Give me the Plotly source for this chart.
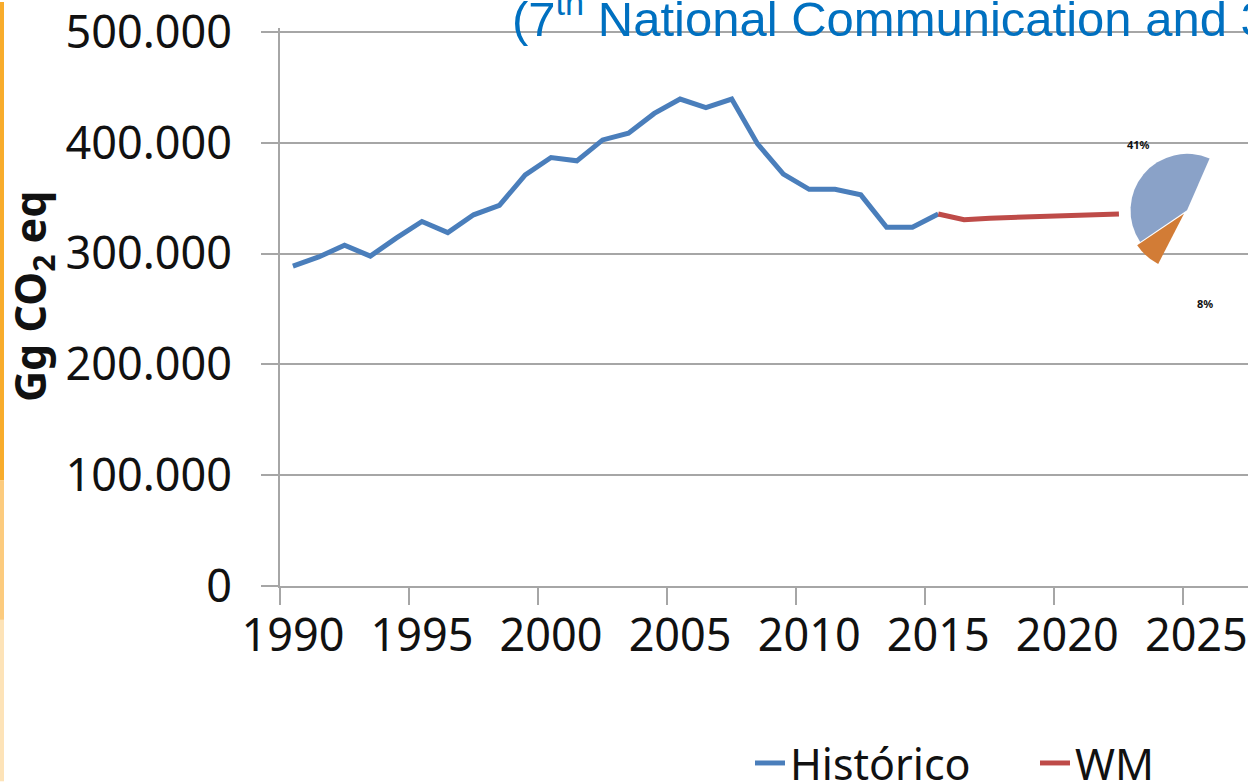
import plotly.graph_objects as go

# ---- data ----
hist_years = list(range(1990, 2016))
hist_values = [288.7, 297.0, 307.5, 297.7, 314.0, 329.0, 319.0, 335.0, 343.5, 371.0,
               386.7, 383.7, 402.6, 408.6, 426.5, 439.5, 431.7, 439.5, 399.0, 371.7,
               358.0, 358.0, 353.0, 323.7, 323.7, 335.7]
hist_values = [v * 1000 for v in hist_values]

wm_years = list(range(2015, 2023))
wm_values = [335.7, 330.6, 332.0, 332.7, 334.2, 334.5, 334.8, 335.7]
wm_values = [v * 1000 for v in wm_values]

x_label_years = [1990, 1995, 2000, 2005, 2010, 2015, 2020, 2025]
x_tick_bounds = [1989.5, 1994.5, 1999.5, 2004.5, 2009.5, 2014.5, 2019.5, 2024.5]
y_tick_vals = [0, 100000, 200000, 300000, 400000, 500000]
y_tick_text = ["0", "100.000", "200.000", "300.000", "400.000", "500.000"]

pie_labels = ["41%", "8%", ""]
pie_values = [41, 8, 51]

W, H = 1248, 782
ML, MR, MT, MB = 280, 0, 26, 196
PW, PH = W - ML - MR, H - MT - MB
Y_TOP = 500000 * PH / (PH - 4)


def px(xp):
    return (xp - ML) / PW


def py(yp):
    return (H - MB - yp) / PH


GRID = "#A6A6A6"
FONT = "Noto Sans"

fig = go.Figure()
fig.add_trace(go.Scatter(x=hist_years, y=hist_values, mode="lines", name="Histórico",
                         line=dict(color="#4A7EBB", width=5)))
fig.add_trace(go.Scatter(x=wm_years, y=wm_values, mode="lines", name="WM",
                         line=dict(color="#BE4B48", width=5)))

fig.add_trace(go.Pie(values=pie_values, labels=["A", "B", "C"], sort=False,
                     direction="counterclockwise", rotation=236,
                     marker=dict(colors=["#8AA2C8", "#D27C36", "rgba(0,0,0,0)"],
                                 line=dict(width=0)),
                     pull=[0, 0.08, 0], textinfo="none", showlegend=False,
                     hoverinfo="skip",
                     domain=dict(x=[px(1126), 1.0], y=[py(318), py(100)])))

fig.update_layout(
    width=W, height=H,
    margin=dict(l=ML, r=MR, t=MT, b=MB),
    paper_bgcolor="#FFFFFF", plot_bgcolor="#FFFFFF",
    font=dict(family=FONT, color="#111111", size=43),
    xaxis=dict(range=[1989.5, 2027.0], tickmode="array", tickvals=x_label_years,
               ticktext=[str(y) for y in x_label_years], ticks="", showgrid=False,
               showline=True, linecolor=GRID, linewidth=2, zeroline=False,
               ticklabelstandoff=9,
               minor=dict(tickmode="array", tickvals=x_tick_bounds, ticks="outside",
                          ticklen=17, tickwidth=2, tickcolor=GRID, showgrid=False),
               tickfont=dict(family=FONT, size=45, color="#111111")),
    yaxis=dict(range=[0, Y_TOP], tickmode="array", tickvals=y_tick_vals,
               ticktext=y_tick_text, ticks="outside", ticklen=17, tickwidth=2,
               tickcolor=GRID, showgrid=True, gridcolor=GRID, gridwidth=2,
               showline=True, linecolor=GRID, linewidth=2, zeroline=False,
               ticklabelstandoff=20, ticklabeloverflow="allow",
               tickfont=dict(family=FONT, size=45, color="#111111")),
    legend=dict(orientation="h", xref="container", yref="container",
                x=750 / W, xanchor="left", y=1 - 763 / H, yanchor="middle",
                font=dict(family=FONT, size=43, color="#111111"),
                bgcolor="rgba(0,0,0,0)", entrywidth=240, itemwidth=30),
    showlegend=True,
)

# white background of the overlaid pie picture
fig.add_shape(type="rect", xref="paper", yref="paper", x0=px(1110), x1=1.0,
              y0=py(335), y1=py(95), fillcolor="#FFFFFF", line=dict(width=0),
              layer="between")

# orange slide edge
for (y0, y1, c) in [(0, 480, "#F8AC2C"), (480, 620, "#FCCB7E"), (620, 782, "#FDE3B8")]:
    fig.add_shape(type="rect", xref="paper", yref="paper", x0=px(0), x1=px(4),
                  y0=py(y1), y1=py(y0), fillcolor=c, line=dict(width=0), layer="above")

# y-axis title
fig.add_annotation(text="<b>Gg CO<sub>2</sub> eq</b>", xref="paper", yref="paper",
                   x=px(32), y=py(295), xanchor="center", yanchor="middle",
                   textangle=-90, showarrow=False,
                   font=dict(family=FONT, size=43, color="#111111"))

# slide title (partly outside the view)
fig.add_annotation(text="(7<sup>th</sup> National Communication and 3", xref="paper",
                   yref="paper", x=px(510), y=py(46), xanchor="left", yanchor="bottom",
                   showarrow=False,
                   font=dict(family="Liberation Sans", size=49, color="#0070C0"))

# pie percentage labels
fig.add_annotation(text="<b>41%</b>", xref="paper", yref="paper", x=px(1152), y=py(133),
                   showarrow=False, font=dict(family=FONT, size=11, color="#111111"))
fig.add_annotation(text="<b>8%</b>", xref="paper", yref="paper", x=px(1215), y=py(302),
                   showarrow=False, font=dict(family=FONT, size=11, color="#111111"))

fig.write_html("out.html", config={"displayModeBar": False},
               post_script="document.body.style.margin='0';"
                           "document.body.style.overflow='hidden';")
